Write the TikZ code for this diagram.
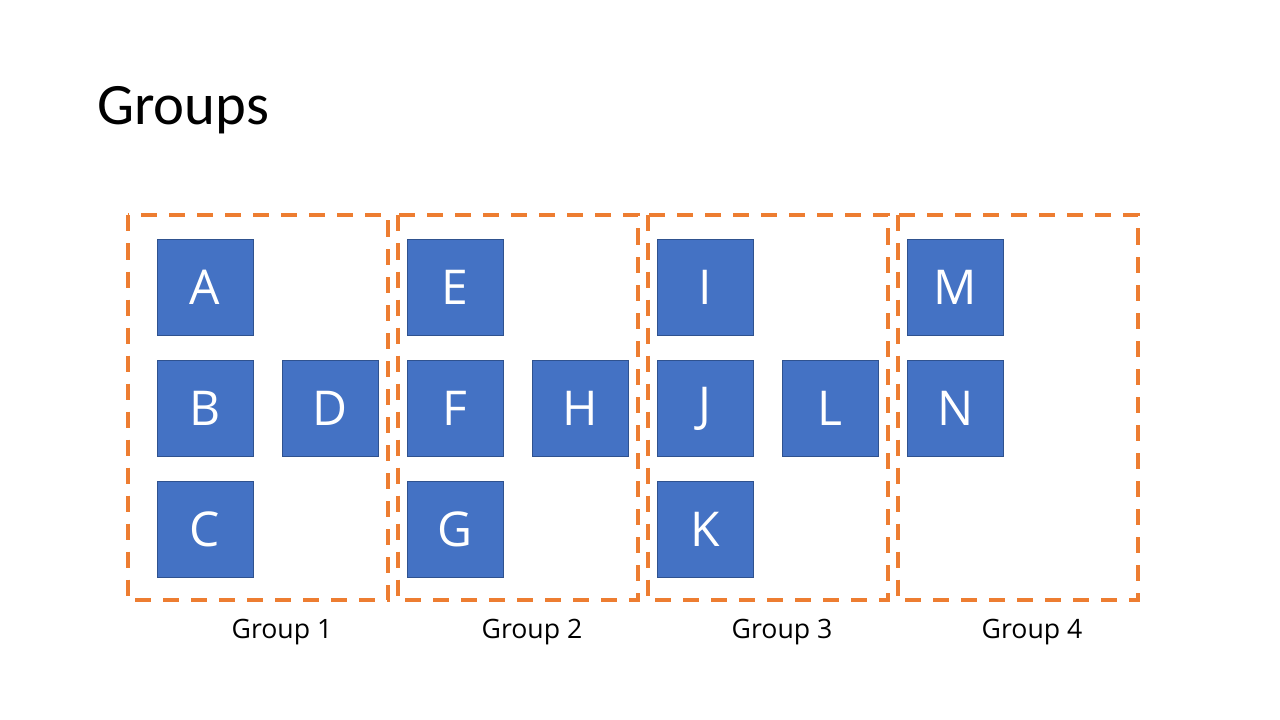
\documentclass[tikz,border=0pt]{standalone}
\usepackage{fontspec}
\setmainfont{Carlito}
\newfontfamily\labelfont{Open Sans}
\usetikzlibrary{positioning}

\definecolor{boxblue}{HTML}{4472C4}
\definecolor{boxedge}{HTML}{2F528F}
\definecolor{frameorange}{HTML}{ED7D31}

\begin{document}
\begin{tikzpicture}[x=0.75pt,y=-0.75pt,
    letterbox/.style={rectangle,fill=boxblue,draw=boxedge,line width=0.75pt,
      minimum size=72pt,inner sep=0pt,text=white,font=\labelfont\fontsize{36}{44}\selectfont},
    groupframe/.style={draw=frameorange,line width=3pt,dash pattern=on 12pt off 9pt},
    grouplabel/.style={anchor=base,inner sep=0pt,font=\labelfont\fontsize{20}{24}\selectfont}]
      \useasboundingbox (0,0) rectangle (1280,720);
      \node[anchor=base west,inner sep=0pt,font=\fontsize{44}{53}\selectfont] (title) at (97,125) {Groups};

      \foreach \i/\left/\right in {1/127.5/387.5,2/397.5/637.5,3/647.5/887.5,4/897.5/1137.5} {
        \draw[groupframe] (\left,215.5) rectangle (\right,600);
      }

      \foreach \name/\x/\y in {A/205/287.5,B/205/408.5,C/205/529.5,D/330/408.5,
                               E/455/287.5,F/455/408.5,G/455/529.5,H/580/408.5,
                               I/705/287.5,J/705/408.5,K/705/529.5,L/830/408.5,
                               M/955.5/287.5,N/955.5/408.5} {
        \node[letterbox] (\name) at (\x,\y) {\name};
      }

      \foreach \i/\x in {1/282,2/532,3/782,4/1032} {
        \node[grouplabel] (label\i) at (\x,638) {Group \i};
      }
    \end{tikzpicture}
\end{document}
